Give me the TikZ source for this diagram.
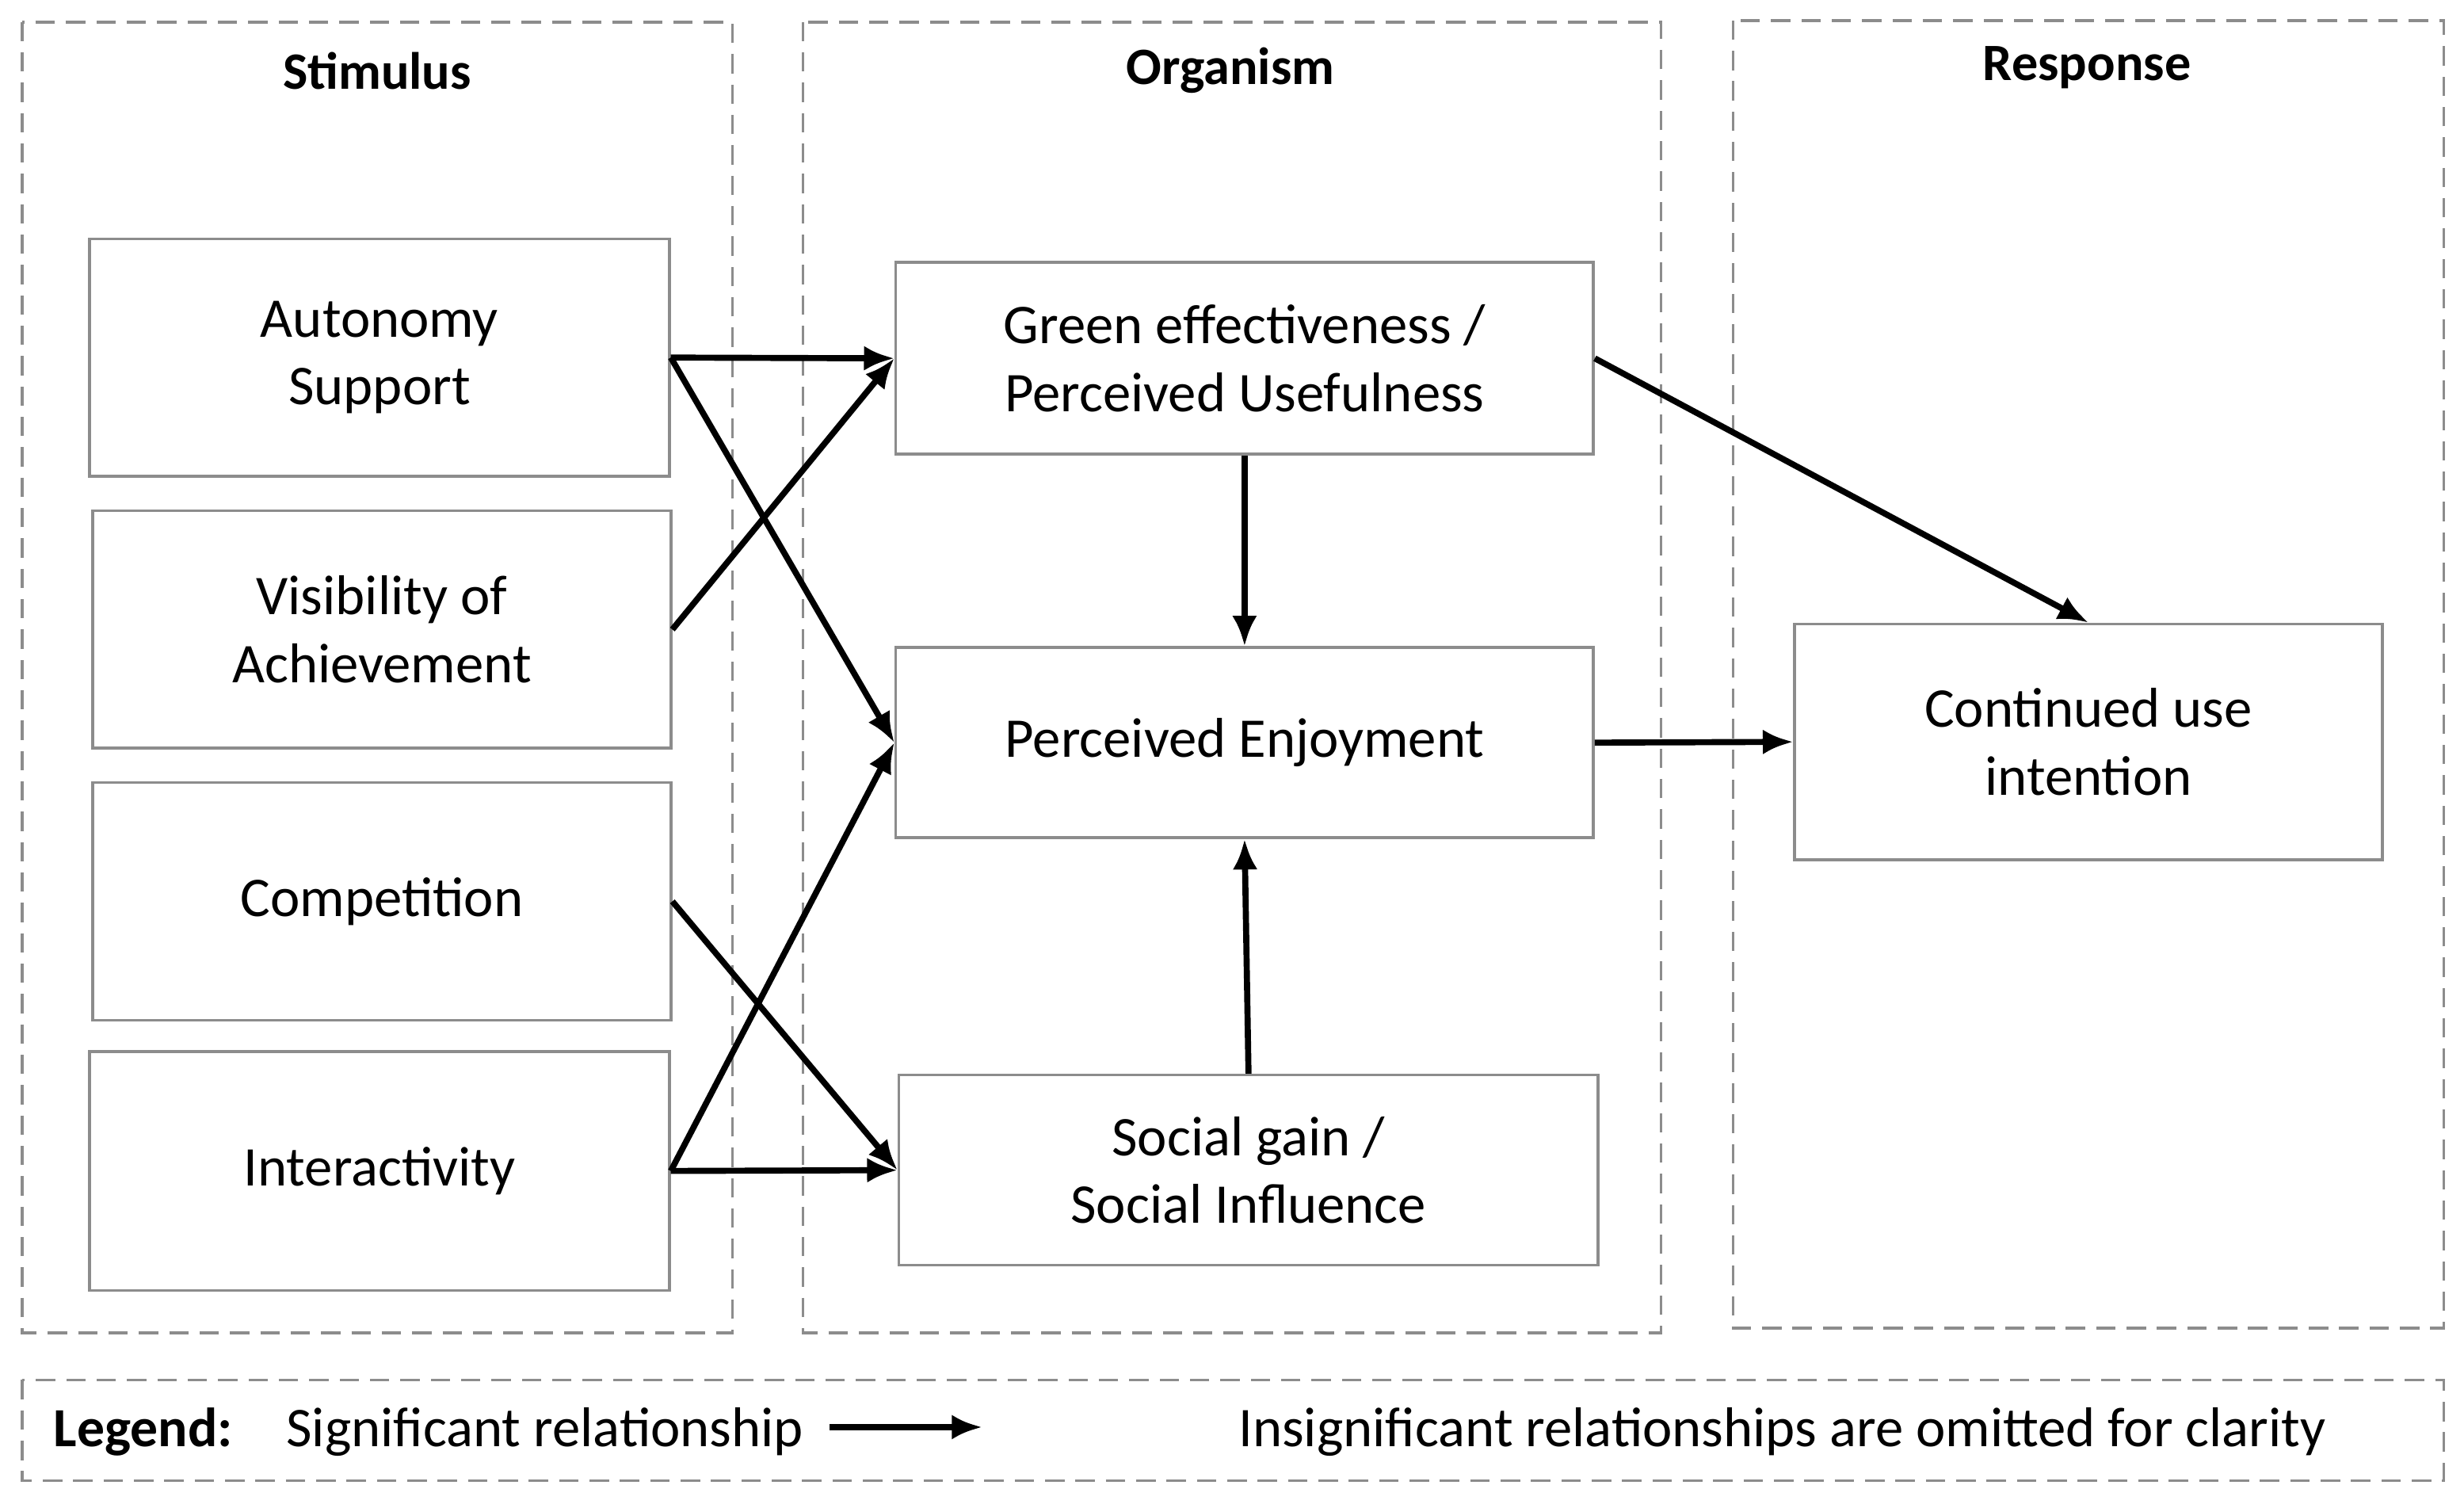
\documentclass[tikz,border=0pt]{standalone}
\usepackage{fontspec}
\setmainfont{Carlito}
\usetikzlibrary{arrows.meta}
\begin{document}
\begin{tikzpicture}[x=0.02cm,y=-0.02cm,
 grp/.style={draw=black!45,dash pattern=on 7pt off 4pt,line width=1pt},
 box/.style={draw=black!45,line width=1pt,align=center,inner sep=0pt,font=\fontsize{20.3pt}{24.5pt}\selectfont},
 ttl/.style={font=\fontsize{19pt}{22pt}\selectfont\bfseries},
 arr/.style={-{Latex[length=11pt,width=9pt]},line width=2.2pt}]
\useasboundingbox (0,0) rectangle (1568,959);
\draw[grp] (14,14) rectangle (466,848);
\draw[grp] (511,14) rectangle (1057,848);
\draw[grp] (1103,13) rectangle (1555,845);
\draw[grp] (14,878) rectangle (1555,942);
\node[ttl] (t1) at (240,45) {Stimulus};
\node[ttl] (t2) at (783,45) {Organism};
\node[ttl] (t3) at (1328,43) {Response};
\newcommand{\bx}[6]{\node[box,minimum width={(#4-#2)*0.02cm},minimum height={(#5-#3)*0.02cm}] (#1) at ({(#2+#4)/2},{(#3+#5)/2}) {#6};}
\bx{aut}{57}{152}{426}{303}{Autonomy\\Support}
\bx{vis}{59}{325}{427}{476}{Visibility of\\Achievement}
\bx{com}{59}{498}{427}{649}{Competition}
\bx{int}{57}{669}{426}{821}{Interactivity}
\bx{gre}{570}{167}{1014}{289}{Green effectiveness /\\Perceived Usefulness}
\bx{enj}{570}{412}{1014}{533}{Perceived Enjoyment}
\bx{soc}{572}{684}{1017}{805}{Social gain /\\Social Influence}
\bx{con}{1142}{397}{1516}{547}{Continued use\\intention}
\draw[arr] (aut.east) -- (gre.west);
\draw[arr] (aut.east) -- (enj.west);
\draw[arr] (vis.east) -- (gre.west);
\draw[arr] (com.east) -- (soc.west);
\draw[arr] (int.east) -- (soc.west);
\draw[arr] (int.east) -- (enj.west);
\draw[arr] (gre.south) -- (enj.north);
\draw[arr] (soc.north) -- (enj.south);
\draw[arr] (gre.east) -- (con.north);
\draw[arr] (enj.east) -- (con.west);
\node[font=\fontsize{20pt}{22pt}\selectfont\bfseries,anchor=west] (lg) at (28,911) {Legend:};
\node[font=\fontsize{20.3pt}{22pt}\selectfont,anchor=west] (sr) at (176,911) {Significant relationship};
\coordinate (la) at (528,908); \coordinate (lb) at (625,908);
\draw[arr] (la) -- (lb);
\node[font=\fontsize{20.3pt}{22pt}\selectfont,anchor=west] (om) at (782,911) {Insignificant relationships are omitted for clarity};
\end{tikzpicture}
\end{document}
